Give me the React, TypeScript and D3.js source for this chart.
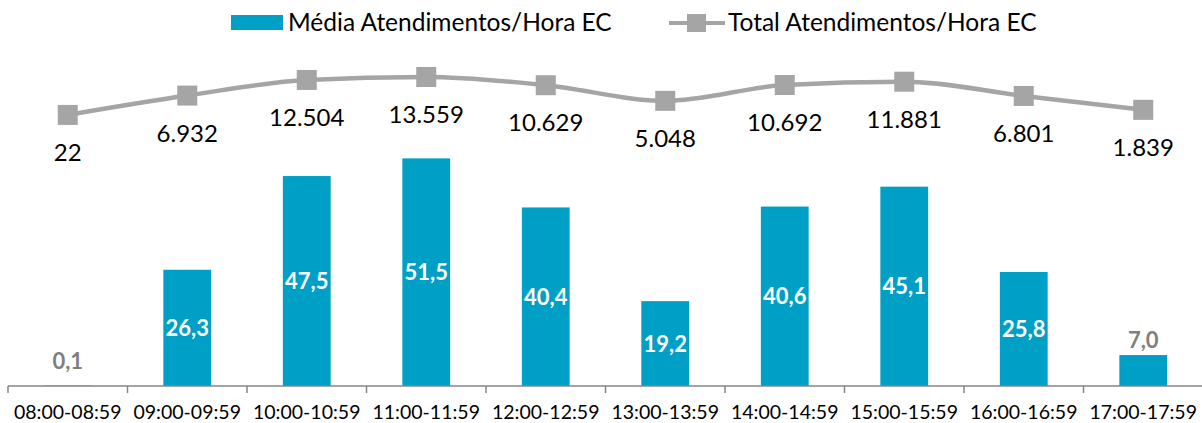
import React from 'react';
import * as d3 from 'd3';

const categories = [
  '08:00-08:59', '09:00-09:59', '10:00-10:59', '11:00-11:59', '12:00-12:59',
  '13:00-13:59', '14:00-14:59', '15:00-15:59', '16:00-16:59', '17:00-17:59',
];
const mediaValues = [0.1, 26.3, 47.5, 51.5, 40.4, 19.2, 40.6, 45.1, 25.8, 7.0];
const totalValues = [22, 6932, 12504, 13559, 10629, 5048, 10692, 11881, 6801, 1839];

const width = 1202;
const height = 423;
const FONT = 'Lato, "Open Sans", sans-serif';
const BAR = '#009FC6';
const LINE = '#A5A5A5';

const fmtBar = (v: number) => v.toFixed(1).replace('.', ',');
const fmtTotal = (v: number) => d3.format(',')(v).replace(/,/g, '.');

const App: React.FC = () => {
  const baseY = 386;
  const x = d3.scaleBand<string>().domain(categories).range([8, 1203]).paddingInner(0.6).paddingOuter(0.3);
  const band = d3.scaleBand<string>().domain(categories).range([8, 1203]);
  const yBar = d3.scaleLinear().domain([0, 60]).range([baseY, baseY - 60 * 4.42]);
  const yLine = d3.scaleLinear().domain([0, 13559]).range([115, 77]);

  const line = d3
    .line<number>()
    .x((_, i) => band(categories[i])! + band.bandwidth() / 2)
    .y((d) => yLine(d))
    .curve(d3.curveMonotoneX);

  return (
    <div style={{ position: 'absolute', left: 0, top: 0 }}>
      <svg width={width} height={height} style={{ display: 'block', fontFamily: FONT }}>
        <rect width={width} height={height} fill="#fff" />

        {/* legend */}
        <rect x={231} y={15} width={52} height={15} fill={BAR} />
        <text x={288} y={31} fontSize={24.5} fill="#000">Média Atendimentos/Hora EC</text>
        <line x1={669} x2={725} y1={23} y2={23} stroke={LINE} strokeWidth={4} />
        <rect x={687} y={14} width={19} height={18} fill={LINE} />
        <text x={728} y={31} fontSize={24.5} fill="#000">Total Atendimentos/Hora EC</text>

        {/* bars */}
        {mediaValues.map((v, i) => (
          <rect
            key={categories[i]}
            x={x(categories[i])}
            y={yBar(v)}
            width={x.bandwidth()}
            height={baseY - yBar(v)}
            fill={BAR}
          />
        ))}
        {mediaValues.map((v, i) => {
          const cx = band(categories[i])! + band.bandwidth() / 2;
          const inside = baseY - yBar(v) > 60;
          const y = inside ? (yBar(v) + baseY) / 2 + 8 : Math.min(yBar(v) - 7, baseY - 17);
          return (
            <text
              key={'bl' + i}
              x={cx}
              y={y}
              textAnchor="middle"
              fontSize={22}
              fontWeight="bold"
              fill={inside ? '#fff' : '#7F7F7F'}
            >
              {fmtBar(v)}
            </text>
          );
        })}

        {/* axis */}
        <line x1={8} x2={1202} y1={baseY} y2={baseY} stroke="#868686" strokeWidth={1.5} />
        {categories.map((c) => (
          <line key={'t' + c} x1={band(c)!} x2={band(c)!} y1={baseY} y2={baseY + 7} stroke="#868686" strokeWidth={1.5} />
        ))}
        {categories.map((c) => (
          <text key={'c' + c} x={band(c)! + band.bandwidth() / 2} y={419} textAnchor="middle" fontSize={19.5} fill="#000">
            {c}
          </text>
        ))}

        {/* total line */}
        <path d={line(totalValues)!} fill="none" stroke={LINE} strokeWidth={4.5} />
        {totalValues.map((v, i) => {
          const cx = band(categories[i])! + band.bandwidth() / 2;
          return <rect key={'m' + i} x={cx - 10} y={yLine(v) - 10} width={20} height={20} fill={LINE} />;
        })}
        {totalValues.map((v, i) => {
          const cx = band(categories[i])! + band.bandwidth() / 2;
          return (
            <text key={'ml' + i} x={cx} y={yLine(v) + 46} textAnchor="middle" fontSize={24} fill="#000">
              {fmtTotal(v)}
            </text>
          );
        })}
      </svg>
    </div>
  );
};

export default App;
